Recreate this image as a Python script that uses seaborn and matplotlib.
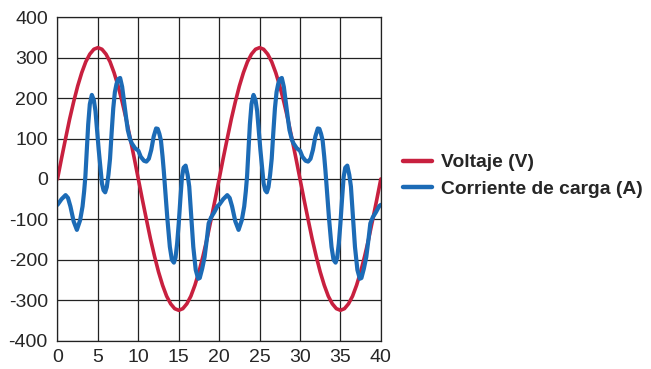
import matplotlib
matplotlib.use("Agg")
import matplotlib.pyplot as plt
import seaborn as sns
import pandas as pd

# Voltage (V), sampled every 0.5 ms
volt_t = [i * 0.5 for i in range(81)]
volt_v = [0, 51, 100, 148, 191, 230, 263, 290, 309, 321, 325, 321, 309, 290, 263, 230, 191, 148, 100, 51,
          0, -51, -100, -148, -191, -230, -263, -290, -309, -321, -325, -321, -309, -290, -263, -230, -191, -148, -100, -51,
          0, 51, 100, 148, 191, 230, 263, 290, 309, 321, 325, 321, 309, 290, 263, 230, 191, 148, 100, 51,
          0, -51, -100, -148, -191, -230, -263, -290, -309, -321, -325, -321, -309, -290, -263, -230, -191, -148, -100, -51,
          0]

# Load current (A)
curr_t = [0, 0.5, 1.0, 1.3, 1.6, 2.0, 2.4, 2.8, 3.1, 3.3, 3.45, 3.6, 3.8, 4.0, 4.25, 4.5, 4.7, 4.9, 5.1, 5.3,
          5.5, 5.7, 5.9, 6.1, 6.3, 6.5, 6.7, 6.9, 7.1, 7.3, 7.5, 7.75, 8.0, 8.2, 8.5, 8.7, 9.0, 9.2, 9.6, 10.0,
          10.3, 10.7, 11.0, 11.3, 11.6, 11.9, 12.2, 12.4, 12.6, 12.8, 13.0, 13.15, 13.3, 13.45, 13.6, 13.9, 14.15,
          14.4, 14.6, 14.8, 15.0, 15.2, 15.4, 15.6, 15.85, 16.1, 16.3, 16.5, 16.8, 17.1, 17.4, 17.6, 17.9, 18.2,
          18.5, 18.7, 19.0, 19.4, 19.8,
          20.0, 20.5, 21.0, 21.3, 21.6, 22.0, 22.4, 22.8, 23.1, 23.3, 23.45, 23.6, 23.8, 24.0, 24.25, 24.5, 24.7, 24.9, 25.1, 25.3,
          25.5, 25.7, 25.9, 26.1, 26.3, 26.5, 26.7, 26.9, 27.1, 27.3, 27.5, 27.75, 28.0, 28.2, 28.5, 28.7, 29.0, 29.2, 29.6, 30.0,
          30.3, 30.7, 31.0, 31.3, 31.6, 31.9, 32.2, 32.4, 32.6, 32.8, 33.0, 33.15, 33.3, 33.45, 33.6, 33.9, 34.15,
          34.4, 34.6, 34.8, 35.0, 35.2, 35.4, 35.6, 35.85, 36.1, 36.3, 36.5, 36.8, 37.1, 37.4, 37.6, 37.9, 38.2,
          38.5, 38.7, 39.0, 39.4, 39.8, 40.0]
curr_v = [-64, -50, -40, -47, -68, -105, -126, -102, -68, -30, 6, 60, 135, 185, 208, 195, 168, 120, 72, 30,
          -11, -28, -33, -20, 10, 50, 115, 175, 215, 235, 247, 250, 228, 196, 150, 121, 97, 88, 76, 70,
          55, 45, 43, 50, 72, 105, 125, 124, 112, 95, 55, 20, -19, -60, -100, -168, -200,
          -207, -195, -160, -110, -50, 5, 28, 33, 10, -19, -80, -168, -225, -247, -245, -222, -193,
          -145, -110, -95, -82, -67,
          -64, -50, -40, -47, -68, -105, -126, -102, -68, -30, 6, 60, 135, 185, 208, 195, 168, 120, 72, 30,
          -11, -28, -33, -20, 10, 50, 115, 175, 215, 235, 247, 250, 228, 196, 150, 121, 97, 88, 76, 70,
          55, 45, 43, 50, 72, 105, 125, 124, 112, 95, 55, 20, -19, -60, -100, -168, -200,
          -207, -195, -160, -110, -50, 5, 28, 33, 10, -19, -80, -168, -225, -247, -245, -222, -193,
          -145, -110, -95, -82, -67, -64]

labels = ["Voltaje (V)", "Corriente de carga (A)"]
colors = ["#C8203F", "#1C6BB6"]
x_ticks = list(range(0, 41, 5))
y_ticks = list(range(-400, 401, 100))

df = pd.concat([
    pd.DataFrame({"t": volt_t, "val": volt_v, "serie": labels[0]}),
    pd.DataFrame({"t": curr_t, "val": curr_v, "serie": labels[1]}),
], ignore_index=True)

sns.set_style("white")
plt.rcParams["font.family"] = ["Liberation Sans", "DejaVu Sans"]
plt.rcParams["axes.unicode_minus"] = False

fig = plt.figure(figsize=(6.51, 3.69), dpi=100)
ax = fig.add_axes([0.0883, 0.077, 0.4967, 0.876])

sns.lineplot(data=df, x="t", y="val", hue="serie", palette=dict(zip(labels, colors)),
             estimator=None, sort=True, ax=ax, linewidth=3)
for line, lw in zip(ax.get_lines(), [2.6, 3.0]):
    line.set_linewidth(lw)
    line.set_solid_capstyle("round")
    line.set_solid_joinstyle("round")

ax.set_xlim(0, 40)
ax.set_ylim(-400, 400)
ax.set_xticks(x_ticks)
ax.set_yticks(y_ticks)
ax.grid(True, color="#222222", linewidth=0.9)
ax.set_axisbelow(True)
for s in ax.spines.values():
    s.set_visible(True)
    s.set_color("#222222")
    s.set_linewidth(0.9)
ax.tick_params(axis="both", length=0, labelsize=14)
ax.tick_params(axis="x", pad=6)
ax.tick_params(axis="y", pad=7)
ax.set_xlabel("")
ax.set_ylabel("")

leg = ax.legend(loc="center left", bbox_to_anchor=(0.6045, 0.5236), bbox_transform=fig.transFigure,
                frameon=False, borderpad=0, handlelength=1.5, handletextpad=0.45, labelspacing=0.45,
                prop={"weight": "bold", "size": 13.9, "family": "Liberation Sans"})
for h in leg.get_lines():
    h.set_linewidth(3.2)

fig.savefig("out.png", dpi=100)
